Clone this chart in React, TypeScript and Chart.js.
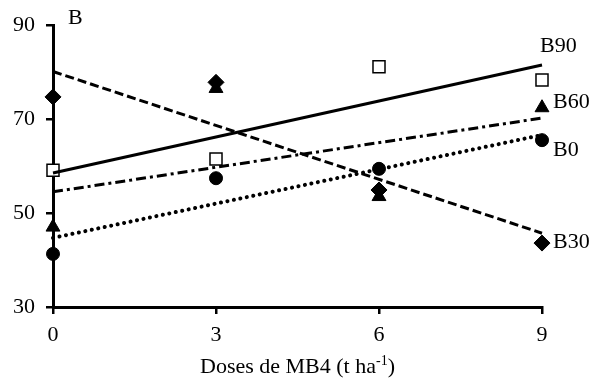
import React, { useEffect, useRef } from "react";
import { Chart, registerables } from "chart.js";

Chart.register(...registerables);

const doses = [0, 3, 6, 9];
const b0Values = [41.3, 57.4, 59.4, 65.5];
const b30Values = [74.7, 77.8, 54.9, 43.6];
const b60Values = [47.0, 76.5, 53.5, 72.4];
const b90Values = [59.1, 61.5, 81.1, 78.3];

// trend line values read at dose 0 and dose 9
const trendDoses = [0, 9];
const b0Trend = [44.7, 66.6];
const b30Trend = [80.1, 45.7];
const b60Trend = [54.5, 70.2];
const b90Trend = [58.5, 81.5];

const seriesLabels = ["B0", "B30", "B60", "B90"];
const labelValues = [63.4, 43.8, 73.6, 85.5];
const yTicks = [30, 50, 70, 90];
const xTicks = [0, 3, 6, 9];
const axisTitle = "Doses de MB4 (t ha";
const axisTitleSup = "-1";
const axisTitleEnd = ")";
const yAxisTitle = "B";

const FONT = "'Liberation Serif', 'Times New Roman', serif";

const pts = (xs: number[], ys: number[]) => xs.map((x, i) => ({ x, y: ys[i] }));

const labelPlugin = {
  id: "labelPlugin",
  afterDatasetsDraw(chart: any) {
    const { ctx, chartArea, scales } = chart;
    const xs = scales.x;
    const ys = scales.y;
    ctx.save();
    ctx.fillStyle = "#000";
    ctx.font = `22px ${FONT}`;
    ctx.textBaseline = "middle";
    ctx.textAlign = "left";
    const offsets = [11, 11, 11, -2];
    seriesLabels.forEach((lab, i) => {
      ctx.fillText(lab, xs.getPixelForValue(9) + offsets[i], ys.getPixelForValue(labelValues[i]));
    });
    // y axis title
    ctx.fillText(yAxisTitle, chartArea.left + 15, chartArea.top - 7);
    // x axis title with superscript
    ctx.font = `22px ${FONT}`;
    const w1 = ctx.measureText(axisTitle).width;
    const w3 = ctx.measureText(axisTitleEnd).width;
    ctx.font = `14px ${FONT}`;
    const w2 = ctx.measureText(axisTitleSup).width;
    const total = w1 + w2 + w3;
    const cx = (chartArea.left + chartArea.right) / 2;
    const ty = 366;
    const x0 = cx - total / 2;
    ctx.font = `22px ${FONT}`;
    ctx.textBaseline = "alphabetic";
    ctx.fillText(axisTitle, x0, ty + 7);
    ctx.font = `14px ${FONT}`;
    ctx.fillText(axisTitleSup, x0 + w1, ty - 1);
    ctx.font = `22px ${FONT}`;
    ctx.fillText(axisTitleEnd, x0 + w1 + w2, ty + 7);
    ctx.restore();
  },
};

export default function App() {
  const ref = useRef<HTMLCanvasElement | null>(null);
  useEffect(() => {
    document.body.style.margin = "0";
    if (!ref.current) return;
    const lineDs = (data: number[], dash: number[], width: number, cap: any = "butt") => ({
      type: "line" as const,
      data: pts(trendDoses, data),
      borderColor: "#000",
      borderWidth: width,
      borderDash: dash,
      borderCapStyle: cap,
      pointRadius: 0,
      fill: false,
      showLine: true,
      clip: false as any,
    });
    const pointDs = (data: number[], style: string, radius: number, bg: string, bw: number) => ({
      type: "scatter" as const,
      data: pts(doses, data),
      pointStyle: style,
      pointRadius: radius,
      pointBackgroundColor: bg,
      pointBorderColor: "#000",
      pointBorderWidth: bw,
      showLine: false,
      clip: false as any,
    });
    const chart = new Chart(ref.current, {
      type: "scatter",
      data: {
        datasets: [
          lineDs(b90Trend, [], 3),
          lineDs(b30Trend, [9, 4], 3),
          lineDs(b60Trend, [10, 4, 3, 4], 3),
          lineDs(b0Trend, [0.1, 6.5], 4, "round"),
          pointDs(b90Values, "rect", 8.5, "#fff", 1.5),
          pointDs(b30Values, "rectRot", 8, "#000", 1),
          pointDs(b60Values, "triangle", 8, "#000", 1),
          pointDs(b0Values, "circle", 6.5, "#000", 1),
        ] as any,
      },
      options: {
        responsive: false,
        animation: false,
        layout: { padding: { left: 0, right: 56, top: 25, bottom: 0 } },
        plugins: { legend: { display: false }, tooltip: { enabled: false }, title: { display: false } },
        scales: {
          x: {
            type: "linear",
            min: 0,
            max: 9,
            afterFit: (s: any) => {
              s.height = 73;
            },
            afterBuildTicks: (s: any) => {
              s.ticks = xTicks.map((v) => ({ value: v }));
            },
            border: { display: true, color: "#000", width: 3 },
            grid: { drawOnChartArea: false, drawTicks: true, tickLength: 7, color: "#000", lineWidth: 2.5 },
            ticks: { color: "#000", font: { family: FONT, size: 22 }, padding: 8, maxRotation: 0 },
          },
          y: {
            type: "linear",
            min: 30,
            max: 90,
            afterFit: (s: any) => {
              s.width = 53;
            },
            afterBuildTicks: (s: any) => {
              s.ticks = yTicks.map((v) => ({ value: v }));
            },
            border: { display: true, color: "#000", width: 3 },
            grid: { drawOnChartArea: false, drawTicks: true, tickLength: 7, color: "#000", lineWidth: 2.5 },
            ticks: { color: "#000", font: { family: FONT, size: 22 }, padding: 11 },
          },
        },
      } as any,
      plugins: [labelPlugin],
    });
    return () => chart.destroy();
  }, []);
  return (
    <div style={{ width: 598, height: 380, background: "#fff" }}>
      <canvas ref={ref} width={598} height={380} />
    </div>
  );
}
